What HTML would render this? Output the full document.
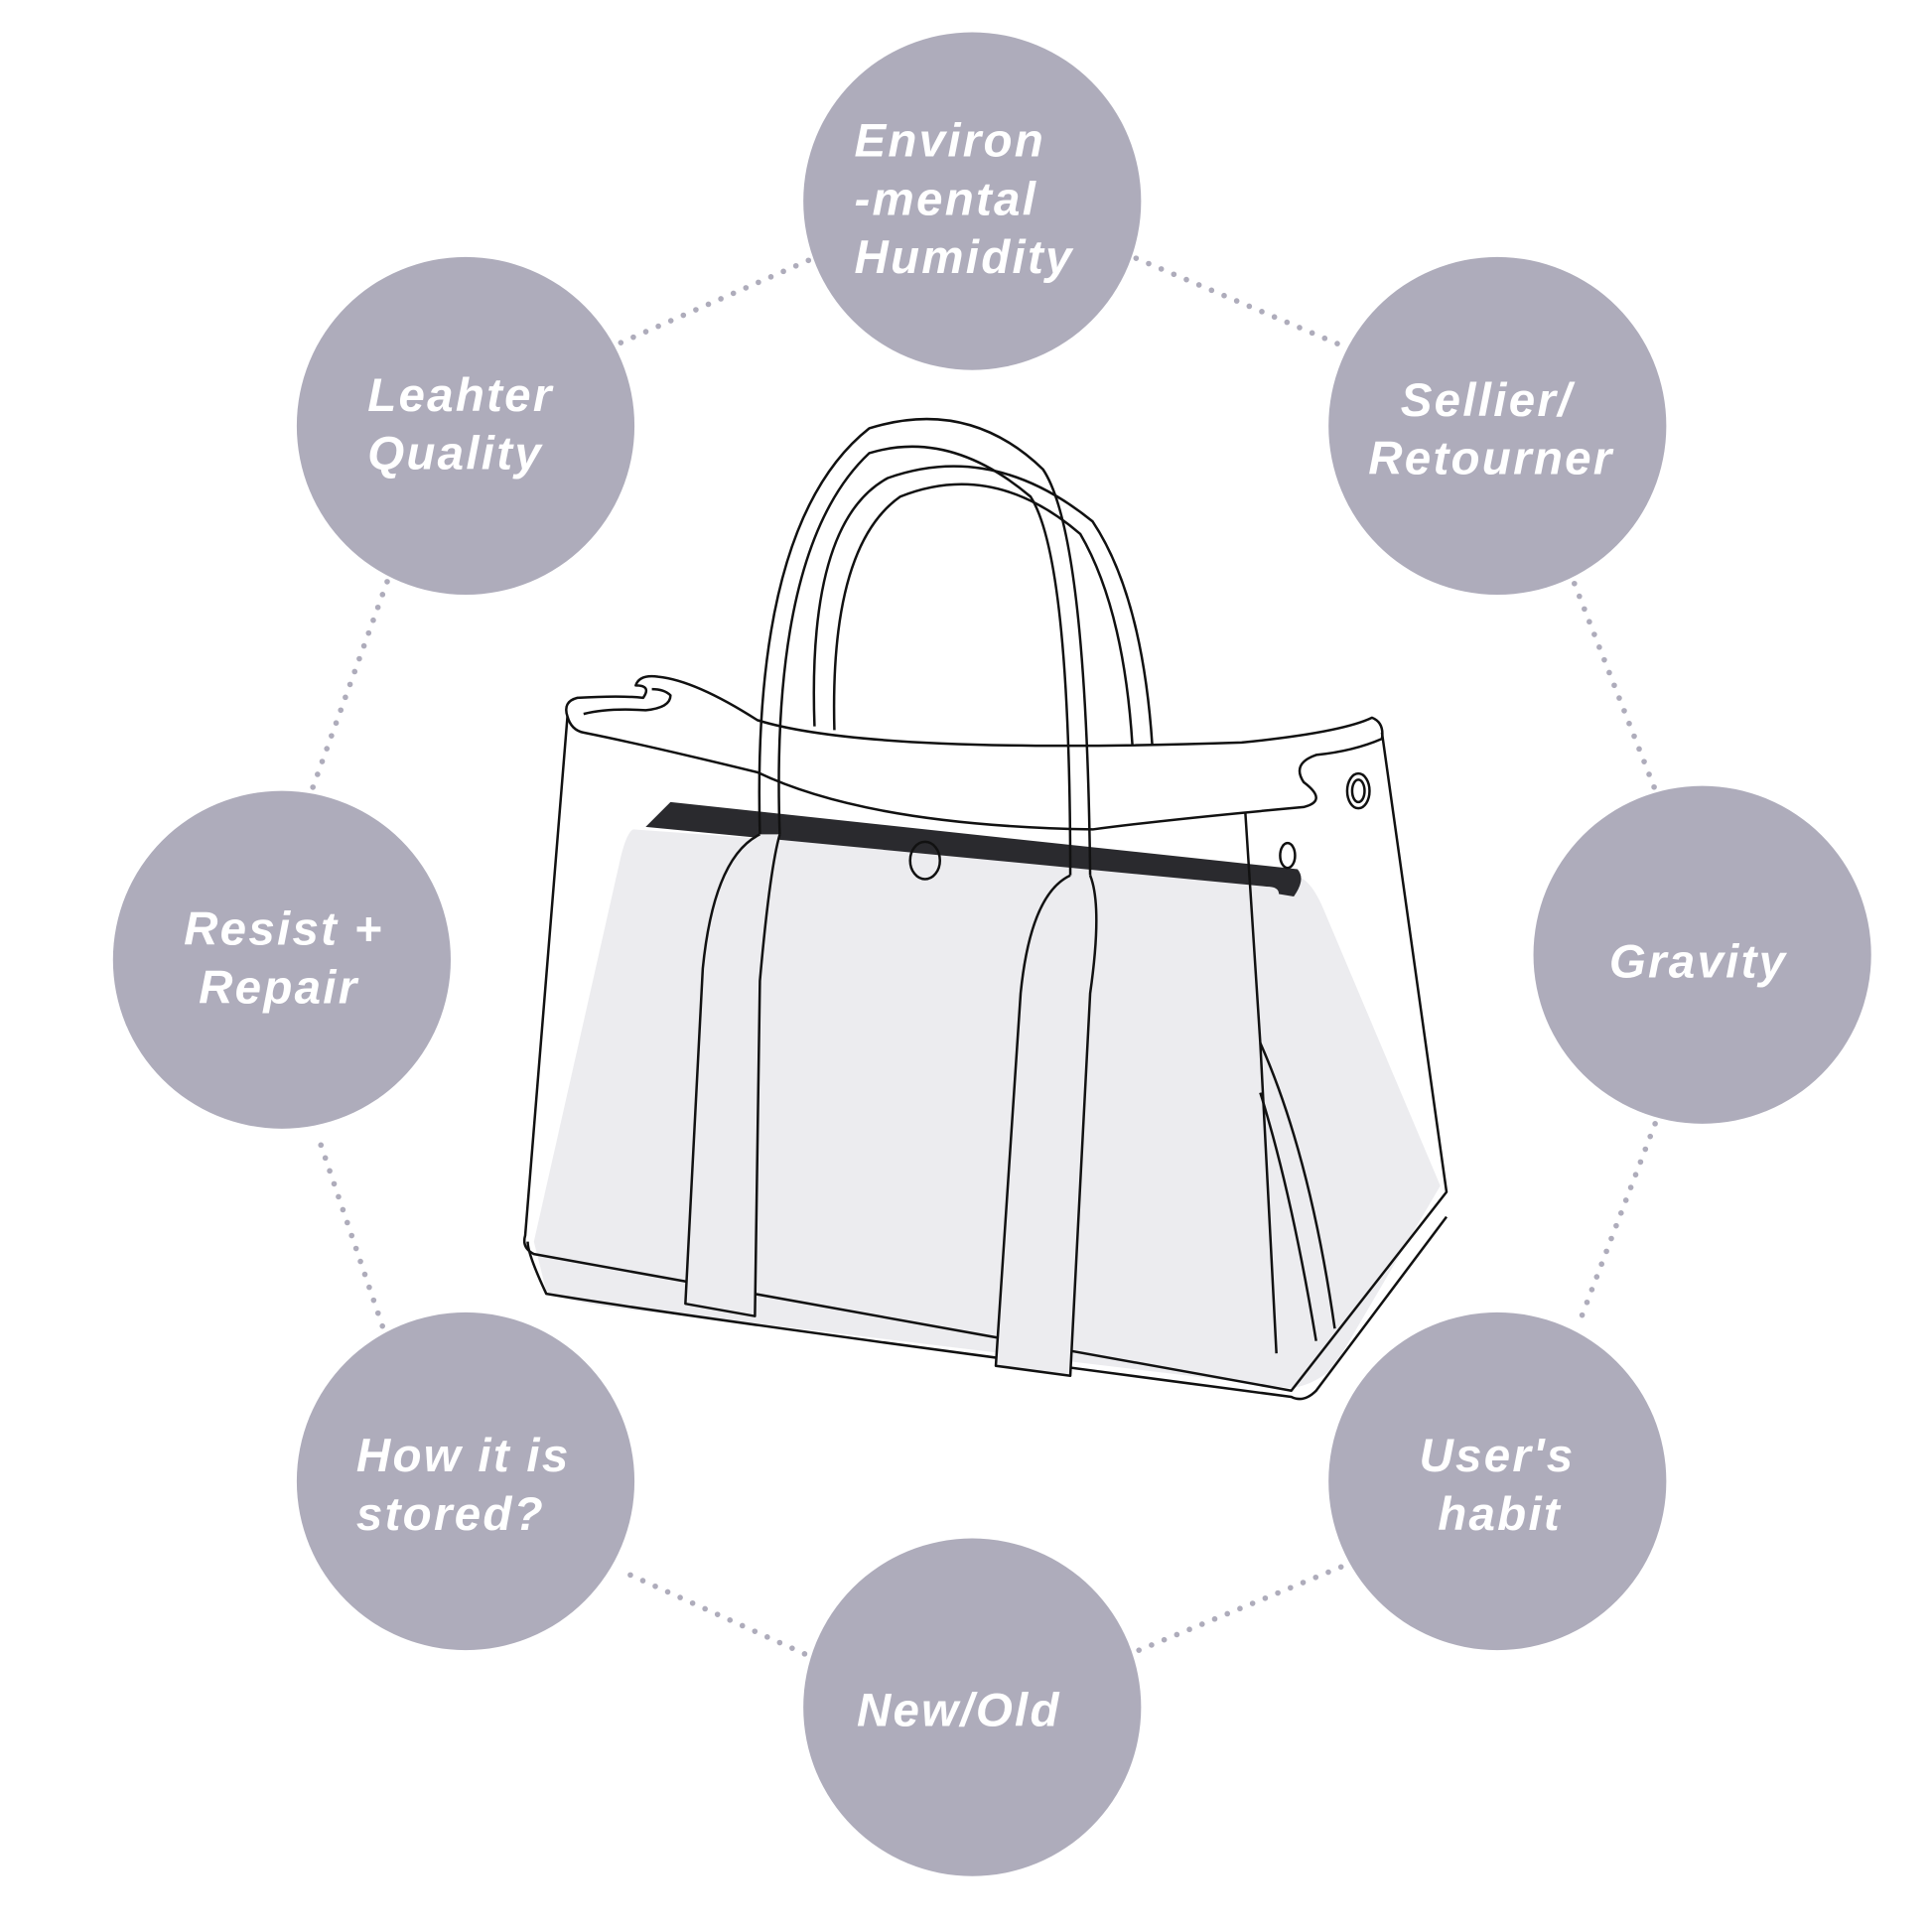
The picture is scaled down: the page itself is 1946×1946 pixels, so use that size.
<!DOCTYPE html>
<html><head><meta charset="utf-8"><style>
html,body{margin:0;padding:0;background:#fff}
svg{display:block}
text{font-family:"Liberation Sans","DejaVu Sans",sans-serif;font-weight:bold;font-style:italic;fill:#fff;font-size:38px;letter-spacing:1.8px}
</style></head><body>
<svg width="1946" height="1946" viewBox="0 0 1556 1556" xmlns="http://www.w3.org/2000/svg">
<g stroke="#aeacbb" stroke-width="4.5" stroke-linecap="round" stroke-dasharray="0 11" fill="none">
<line x1="500" y1="276" x2="655" y2="208"/>
<line x1="915" y1="208" x2="1080" y2="278"/>
<line x1="1268" y1="470" x2="1333" y2="636"/>
<line x1="1333" y1="905" x2="1272" y2="1065"/>
<line x1="1080" y1="1262" x2="915" y2="1330"/>
<line x1="648" y1="1332" x2="500" y2="1265"/>
<line x1="308" y1="1068" x2="255" y2="912"/>
<line x1="252" y1="634" x2="312" y2="468"/>
</g>
<g fill="#aeacbb">
<circle cx="783" cy="162" r="136"/>
<circle cx="375" cy="343" r="136"/>
<circle cx="1206" cy="343" r="136"/>
<circle cx="227" cy="773" r="136"/>
<circle cx="1371" cy="769" r="136"/>
<circle cx="375" cy="1193" r="136"/>
<circle cx="1206" cy="1193" r="136"/>
<circle cx="783" cy="1375" r="136"/>
</g>
<text x="688" y="126">Environ</text>
<text x="688" y="173">-mental</text>
<text x="688" y="220">Humidity</text>
<text x="296" y="331">Leahter</text>
<text x="296" y="378">Quality</text>
<text x="1128" y="335">Sellier/</text>
<text x="1102" y="382">Retourner</text>
<text x="148" y="761">Resist +</text>
<text x="160" y="808">Repair</text>
<text x="1296" y="787">Gravity</text>
<text x="287" y="1185">How it is</text>
<text x="287" y="1232">stored?</text>
<text x="1143" y="1185">User's</text>
<text x="1158" y="1232">habit</text>
<text x="690" y="1390">New/Old</text>
<g stroke="#111" stroke-width="2" fill="none" stroke-linejoin="round">
<path d="M510,668 Q505,670 500,690 L430,1000 L440,1040 Q460,1052 560,1060 L1040,1118 Q1060,1115 1075,1100 L1160,955 L1065,730 Q1055,708 1045,706 Z" fill="#ececef" stroke="none"/>
<path d="M540,646 L1045,700 Q1052,708 1042,722 L1030,720 Q1030,714 1020,714 L520,666 Z" fill="#2a2a2e" stroke="none"/>
<path d="M457,577 L423,995 Q420,1005 430,1010 L1040,1120 L1165,960 L1113,590"/>
<path d="M425,1000 Q425,1010 440,1042 Q560,1062 1040,1125 Q1050,1130 1060,1120 L1165,980"/>
<path d="M457,577 Q453,565 465,562 Q500,560 518,562 Q525,552 512,552 Q515,543 530,545 Q560,548 610,580 Q700,608 1000,598 Q1080,590 1105,578 Q1115,582 1113,595 Q1090,605 1060,608 Q1040,615 1050,630 Q1070,645 1050,650 Q940,660 880,668 Q700,665 610,622 Q520,600 470,590 Q460,588 457,577 Z"/>
<path d="M470,575 Q490,570 520,572 Q540,570 540,560 Q535,555 525,555"/>
<path d="M1003,655 L1015,840 L1028,1090"/>
<path d="M1015,840 Q1055,930 1075,1070 M1015,880 Q1040,960 1060,1080"/>
<ellipse cx="1094" cy="637" rx="9" ry="14"/><ellipse cx="1094" cy="637" rx="5" ry="9"/>
<ellipse cx="1037" cy="689" rx="6" ry="10"/>
<ellipse cx="745" cy="693" rx="12" ry="15"/>
<path d="M612,672 Q605,420 700,345 Q780,320 840,378 Q875,430 878,705"/>
<path d="M628,672 Q620,440 700,365 Q765,345 830,400 Q862,450 862,705"/>
<path d="M656,585 Q650,420 715,385 Q800,355 880,420 Q920,480 928,600"/>
<path d="M672,588 Q668,440 725,400 Q800,370 870,430 Q905,490 912,600"/>
<path d="M612,672 Q575,690 566,780 L552,1050 L608,1060 L612,790 Q620,700 628,672" fill="#ececef"/>
<path d="M862,705 Q830,720 822,800 L802,1100 L862,1108 L878,800 Q888,730 878,705" fill="#ececef"/>
</g>
</svg>
</body></html>
